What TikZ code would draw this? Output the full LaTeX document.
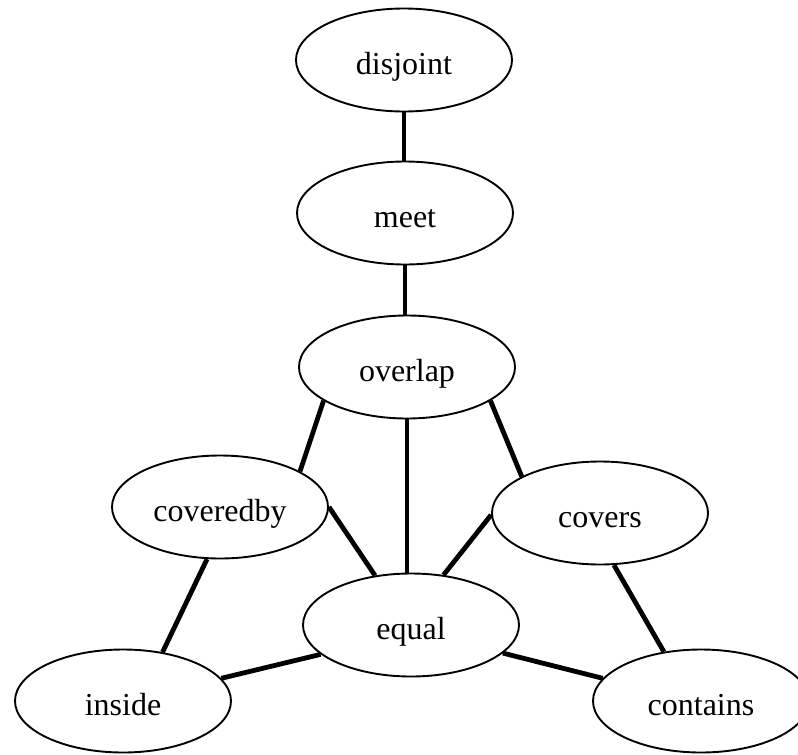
\documentclass[tikz,border=0pt]{standalone}
\usepackage{fontspec}
\setmainfont{Liberation Serif}
\usetikzlibrary{shapes.geometric}
\begin{document}
\begin{tikzpicture}[x=1pt,y=-1pt,
  rel/.style={ellipse,draw,line width=1.9pt,minimum width=216pt,minimum height=103pt,inner sep=0pt,
    text height=28pt,text depth=0pt,font=\fontsize{32}{36}\selectfont},
  link/.style={line width=4.8pt}]
\clip (0,0) rectangle (798,755);
\useasboundingbox (0,0) rectangle (798,755);
\node[rel] (disjoint) at (404,60) {disjoint};
\node[rel] (meet) at (405,213) {meet};
\node[rel] (overlap) at (407,367) {overlap};
\node[rel] (coveredby) at (220,507) {coveredby};
\node[rel] (covers) at (600,513) {covers};
\node[rel] (equal) at (411,625) {equal};
\node[rel] (inside) at (123,701) {inside};
\node[rel] (contains) at (701,701) {contains};
\draw[link] (disjoint.south) -- (disjoint.south |- meet.north);
\draw[link] (meet.south) -- (meet.south |- overlap.north);
\draw[link] (overlap.south) -- (overlap.south |- equal.north);
\draw[link] (overlap.202) -- (coveredby.24);
\draw[link] (overlap.338) -- (covers.155);
\draw[link] (coveredby.0) -- (equal.126);
\draw[link] (covers.181) -- (equal.57);
\draw[link] (coveredby.256) -- (inside.51);
\draw[link] (inside.13) -- (equal.198);
\draw[link] (equal.343) -- (contains.167);
\draw[link] (covers.285) -- (contains.127);
\end{tikzpicture}
\end{document}
